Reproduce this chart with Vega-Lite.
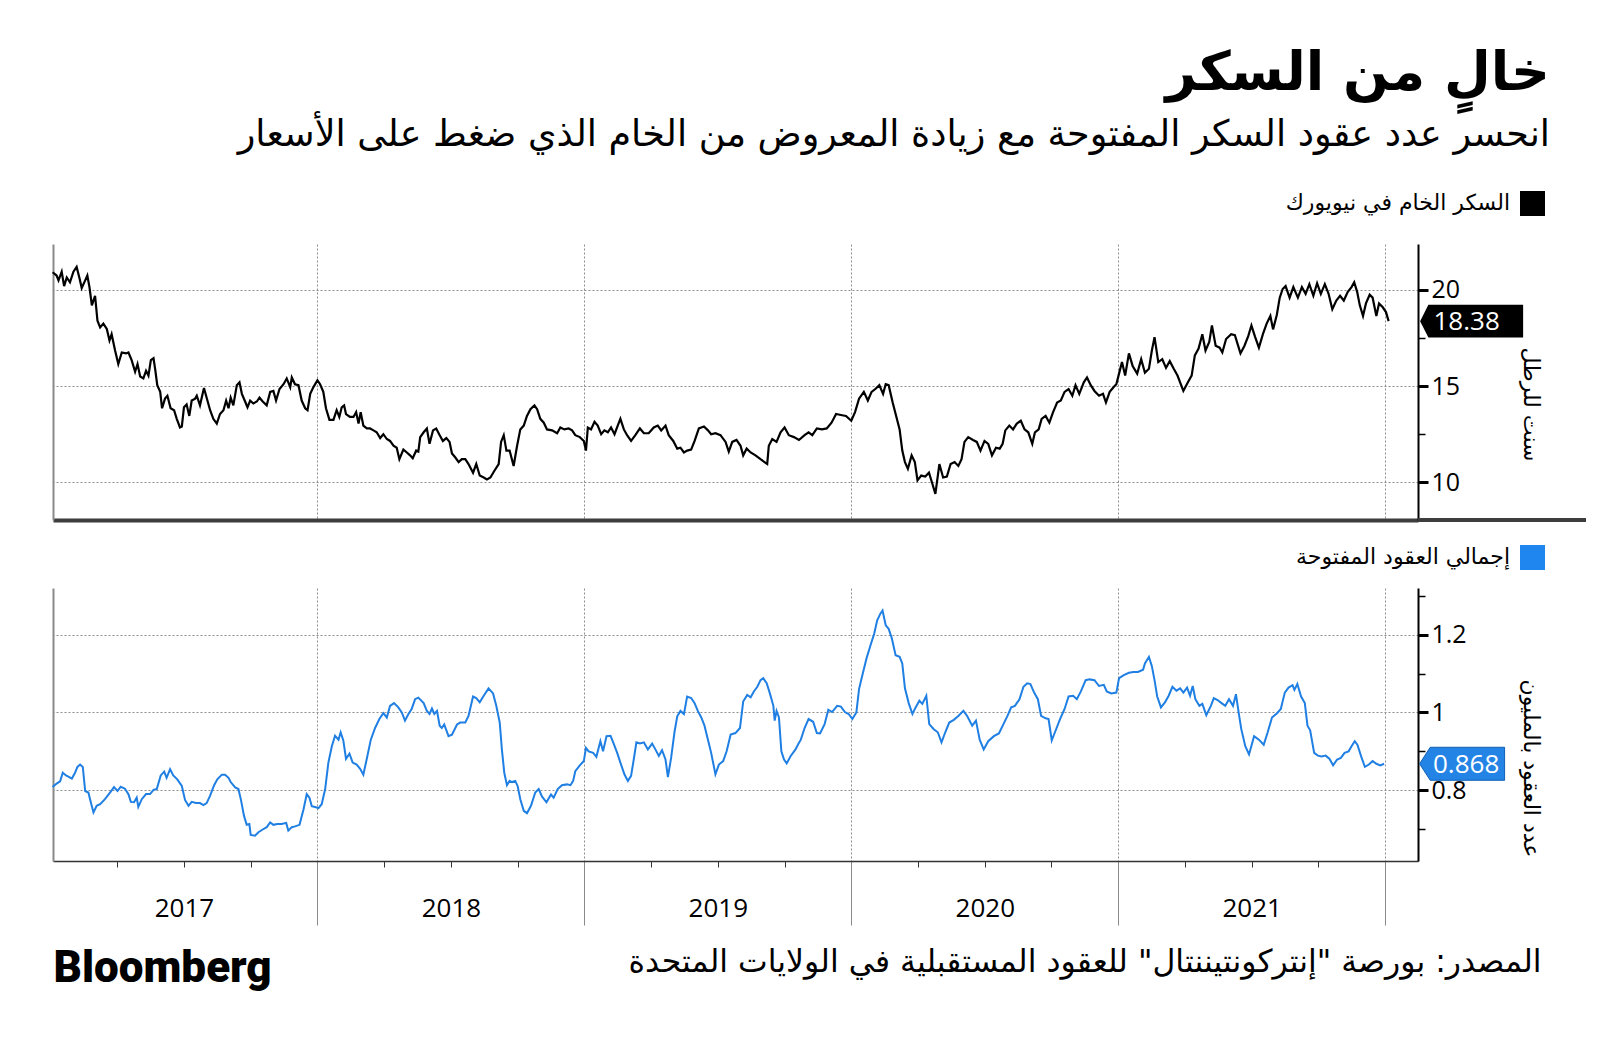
{
  "$schema": "https://vega.github.io/schema/vega-lite/v6.json",
  "background": "white",
  "padding": {"left": 48, "top": 46, "right": 0, "bottom": 40},
  "bounds": "flush",
  "spacing": 68,
  "title": {
    "text": "خالٍ من السكر",
    "subtitle": "انحسر عدد عقود السكر المفتوحة مع زيادة المعروض من الخام الذي ضغط على الأسعار",
    "anchor": "end",
    "frame": "group",
    "dx": 132,
    "offset": 38,
    "font": "DejaVu Sans",
    "fontSize": 54,
    "fontWeight": "bold",
    "color": "#000000",
    "subtitleFont": "DejaVu Sans",
    "subtitleFontSize": 36.5,
    "subtitleColor": "#000000",
    "subtitlePadding": 16
  },
  "datasets": {
    "sugar": [
      {"year": 2017.008, "price": 20.92}, {"year": 2017.023, "price": 20.75}, {"year": 2017.030, "price": 20.5}, {"year": 2017.042, "price": 20.95},
      {"year": 2017.051, "price": 20.2}, {"year": 2017.061, "price": 20.65}, {"year": 2017.073, "price": 20.4}, {"year": 2017.086, "price": 20.95},
      {"year": 2017.098, "price": 21.2}, {"year": 2017.108, "price": 20.65}, {"year": 2017.117, "price": 20.1}, {"year": 2017.130, "price": 20.5},
      {"year": 2017.138, "price": 20.75}, {"year": 2017.146, "price": 20.15}, {"year": 2017.155, "price": 19.2}, {"year": 2017.167, "price": 19.7},
      {"year": 2017.176, "price": 18.4}, {"year": 2017.186, "price": 18.05}, {"year": 2017.198, "price": 18.25}, {"year": 2017.211, "price": 17.97},
      {"year": 2017.221, "price": 17.37}, {"year": 2017.229, "price": 17.7}, {"year": 2017.242, "price": 16.85}, {"year": 2017.254, "price": 16.15},
      {"year": 2017.267, "price": 16.75}, {"year": 2017.283, "price": 16.7}, {"year": 2017.292, "price": 16.75}, {"year": 2017.304, "price": 16.35},
      {"year": 2017.317, "price": 15.75}, {"year": 2017.326, "price": 16.15}, {"year": 2017.336, "price": 15.5}, {"year": 2017.348, "price": 15.4},
      {"year": 2017.358, "price": 15.8}, {"year": 2017.367, "price": 15.55}, {"year": 2017.376, "price": 16.35}, {"year": 2017.386, "price": 16.45},
      {"year": 2017.392, "price": 15.9}, {"year": 2017.400, "price": 15.05}, {"year": 2017.411, "price": 14.7}, {"year": 2017.418, "price": 13.85},
      {"year": 2017.429, "price": 14.35}, {"year": 2017.438, "price": 14.5}, {"year": 2017.450, "price": 13.85}, {"year": 2017.463, "price": 13.75},
      {"year": 2017.473, "price": 13.3}, {"year": 2017.485, "price": 12.85}, {"year": 2017.492, "price": 12.9}, {"year": 2017.500, "price": 13.9},
      {"year": 2017.510, "price": 14.05}, {"year": 2017.520, "price": 13.45}, {"year": 2017.529, "price": 14.25}, {"year": 2017.542, "price": 14.35},
      {"year": 2017.548, "price": 14.5}, {"year": 2017.560, "price": 14.0}, {"year": 2017.575, "price": 14.9}, {"year": 2017.585, "price": 14.4},
      {"year": 2017.598, "price": 13.75}, {"year": 2017.610, "price": 13.3}, {"year": 2017.623, "price": 13.05}, {"year": 2017.635, "price": 13.55},
      {"year": 2017.648, "price": 13.75}, {"year": 2017.658, "price": 14.25}, {"year": 2017.667, "price": 13.85}, {"year": 2017.675, "price": 14.4},
      {"year": 2017.685, "price": 14.0}, {"year": 2017.698, "price": 15.05}, {"year": 2017.708, "price": 15.2}, {"year": 2017.717, "price": 14.6},
      {"year": 2017.729, "price": 14.2}, {"year": 2017.738, "price": 13.9}, {"year": 2017.748, "price": 14.25}, {"year": 2017.760, "price": 14.1},
      {"year": 2017.773, "price": 14.2}, {"year": 2017.783, "price": 14.4}, {"year": 2017.795, "price": 14.2}, {"year": 2017.810, "price": 14.0},
      {"year": 2017.823, "price": 14.7}, {"year": 2017.835, "price": 14.75}, {"year": 2017.845, "price": 14.25}, {"year": 2017.858, "price": 14.85},
      {"year": 2017.873, "price": 15.1}, {"year": 2017.885, "price": 15.4}, {"year": 2017.898, "price": 14.95}, {"year": 2017.904, "price": 15.45},
      {"year": 2017.916, "price": 15.1}, {"year": 2017.929, "price": 15.05}, {"year": 2017.941, "price": 14.25}, {"year": 2017.954, "price": 13.85},
      {"year": 2017.963, "price": 13.75}, {"year": 2017.973, "price": 14.6}, {"year": 2017.985, "price": 14.95}, {"year": 2018.000, "price": 15.3},
      {"year": 2018.010, "price": 15.1}, {"year": 2018.022, "price": 14.7}, {"year": 2018.032, "price": 13.85}, {"year": 2018.045, "price": 13.25},
      {"year": 2018.060, "price": 13.25}, {"year": 2018.072, "price": 13.75}, {"year": 2018.082, "price": 13.4}, {"year": 2018.091, "price": 13.9},
      {"year": 2018.100, "price": 14.0}, {"year": 2018.107, "price": 13.55}, {"year": 2018.122, "price": 13.4}, {"year": 2018.135, "price": 13.4},
      {"year": 2018.145, "price": 13.65}, {"year": 2018.154, "price": 13.05}, {"year": 2018.162, "price": 13.65}, {"year": 2018.172, "price": 12.95},
      {"year": 2018.185, "price": 12.8}, {"year": 2018.197, "price": 12.8}, {"year": 2018.210, "price": 12.7}, {"year": 2018.222, "price": 12.6},
      {"year": 2018.235, "price": 12.3}, {"year": 2018.247, "price": 12.5}, {"year": 2018.260, "price": 12.25}, {"year": 2018.272, "price": 12.15},
      {"year": 2018.285, "price": 11.9}, {"year": 2018.297, "price": 11.8}, {"year": 2018.307, "price": 11.2}, {"year": 2018.322, "price": 11.7},
      {"year": 2018.335, "price": 11.55}, {"year": 2018.347, "price": 11.4}, {"year": 2018.357, "price": 11.25}, {"year": 2018.370, "price": 11.65},
      {"year": 2018.378, "price": 11.6}, {"year": 2018.385, "price": 12.35}, {"year": 2018.398, "price": 12.6}, {"year": 2018.410, "price": 12.8},
      {"year": 2018.420, "price": 12.0}, {"year": 2018.433, "price": 12.7}, {"year": 2018.445, "price": 12.8}, {"year": 2018.458, "price": 12.45},
      {"year": 2018.470, "price": 12.15}, {"year": 2018.483, "price": 12.3}, {"year": 2018.495, "price": 12.1}, {"year": 2018.504, "price": 11.5},
      {"year": 2018.516, "price": 11.3}, {"year": 2018.529, "price": 11.05}, {"year": 2018.541, "price": 11.2}, {"year": 2018.554, "price": 11.2},
      {"year": 2018.566, "price": 10.95}, {"year": 2018.583, "price": 10.5}, {"year": 2018.595, "price": 10.95}, {"year": 2018.608, "price": 10.35},
      {"year": 2018.623, "price": 10.25}, {"year": 2018.635, "price": 10.15}, {"year": 2018.648, "price": 10.25}, {"year": 2018.663, "price": 10.6},
      {"year": 2018.679, "price": 10.95}, {"year": 2018.688, "price": 12.1}, {"year": 2018.698, "price": 12.45}, {"year": 2018.708, "price": 11.65},
      {"year": 2018.720, "price": 11.65}, {"year": 2018.735, "price": 10.85}, {"year": 2018.748, "price": 11.9}, {"year": 2018.760, "price": 12.75},
      {"year": 2018.773, "price": 12.95}, {"year": 2018.785, "price": 13.45}, {"year": 2018.798, "price": 13.8}, {"year": 2018.813, "price": 14.0},
      {"year": 2018.823, "price": 13.8}, {"year": 2018.835, "price": 13.3}, {"year": 2018.848, "price": 13.1}, {"year": 2018.860, "price": 12.75},
      {"year": 2018.879, "price": 12.7}, {"year": 2018.898, "price": 12.55}, {"year": 2018.910, "price": 12.85}, {"year": 2018.925, "price": 12.75},
      {"year": 2018.941, "price": 12.8}, {"year": 2018.954, "price": 12.7}, {"year": 2018.966, "price": 12.45}, {"year": 2018.983, "price": 12.35},
      {"year": 2018.998, "price": 12.15}, {"year": 2019.006, "price": 11.65}, {"year": 2019.013, "price": 12.85}, {"year": 2019.025, "price": 12.75},
      {"year": 2019.038, "price": 13.15}, {"year": 2019.050, "price": 12.95}, {"year": 2019.063, "price": 12.5}, {"year": 2019.075, "price": 12.7},
      {"year": 2019.088, "price": 12.6}, {"year": 2019.100, "price": 12.85}, {"year": 2019.113, "price": 12.5}, {"year": 2019.125, "price": 12.95},
      {"year": 2019.135, "price": 13.3}, {"year": 2019.148, "price": 12.75}, {"year": 2019.160, "price": 12.45}, {"year": 2019.175, "price": 12.15},
      {"year": 2019.191, "price": 12.45}, {"year": 2019.208, "price": 12.8}, {"year": 2019.223, "price": 12.55}, {"year": 2019.241, "price": 12.55},
      {"year": 2019.260, "price": 12.85}, {"year": 2019.275, "price": 12.95}, {"year": 2019.288, "price": 12.7}, {"year": 2019.304, "price": 12.95},
      {"year": 2019.316, "price": 12.45}, {"year": 2019.333, "price": 12.15}, {"year": 2019.348, "price": 11.75}, {"year": 2019.360, "price": 11.8},
      {"year": 2019.373, "price": 11.55}, {"year": 2019.385, "price": 11.65}, {"year": 2019.400, "price": 11.7}, {"year": 2019.413, "price": 12.15},
      {"year": 2019.429, "price": 12.8}, {"year": 2019.448, "price": 12.9}, {"year": 2019.463, "price": 12.7}, {"year": 2019.475, "price": 12.5},
      {"year": 2019.491, "price": 12.55}, {"year": 2019.510, "price": 12.45}, {"year": 2019.529, "price": 12.1}, {"year": 2019.541, "price": 11.6},
      {"year": 2019.554, "price": 12.1}, {"year": 2019.570, "price": 12.2}, {"year": 2019.585, "price": 11.9}, {"year": 2019.595, "price": 11.4},
      {"year": 2019.608, "price": 11.75}, {"year": 2019.623, "price": 11.55}, {"year": 2019.641, "price": 11.4}, {"year": 2019.660, "price": 11.2},
      {"year": 2019.675, "price": 11.05}, {"year": 2019.685, "price": 10.95}, {"year": 2019.691, "price": 11.9}, {"year": 2019.704, "price": 12.25},
      {"year": 2019.720, "price": 12.1}, {"year": 2019.735, "price": 12.6}, {"year": 2019.750, "price": 12.85}, {"year": 2019.766, "price": 12.45},
      {"year": 2019.785, "price": 12.35}, {"year": 2019.804, "price": 12.2}, {"year": 2019.825, "price": 12.45}, {"year": 2019.840, "price": 12.6},
      {"year": 2019.854, "price": 12.45}, {"year": 2019.871, "price": 12.8}, {"year": 2019.890, "price": 12.75}, {"year": 2019.908, "price": 12.8},
      {"year": 2019.926, "price": 13.1}, {"year": 2019.943, "price": 13.55}, {"year": 2019.961, "price": 13.5}, {"year": 2019.980, "price": 13.45},
      {"year": 2020.000, "price": 13.2}, {"year": 2020.014, "price": 13.65}, {"year": 2020.029, "price": 14.35}, {"year": 2020.047, "price": 14.7},
      {"year": 2020.062, "price": 14.25}, {"year": 2020.076, "price": 14.7}, {"year": 2020.090, "price": 14.85}, {"year": 2020.105, "price": 15.05},
      {"year": 2020.119, "price": 14.6}, {"year": 2020.129, "price": 15.1}, {"year": 2020.140, "price": 15.05}, {"year": 2020.155, "price": 14.15},
      {"year": 2020.169, "price": 13.4}, {"year": 2020.181, "price": 12.75}, {"year": 2020.191, "price": 11.65}, {"year": 2020.201, "price": 11.05},
      {"year": 2020.212, "price": 10.7}, {"year": 2020.226, "price": 11.4}, {"year": 2020.238, "price": 11.05}, {"year": 2020.248, "price": 10.1},
      {"year": 2020.262, "price": 10.35}, {"year": 2020.277, "price": 10.3}, {"year": 2020.291, "price": 10.5}, {"year": 2020.302, "price": 10.0},
      {"year": 2020.315, "price": 9.4}, {"year": 2020.330, "price": 10.95}, {"year": 2020.344, "price": 10.25}, {"year": 2020.358, "price": 10.3},
      {"year": 2020.372, "price": 10.95}, {"year": 2020.387, "price": 11.05}, {"year": 2020.401, "price": 10.85}, {"year": 2020.413, "price": 11.2},
      {"year": 2020.424, "price": 12.1}, {"year": 2020.438, "price": 12.35}, {"year": 2020.456, "price": 12.2}, {"year": 2020.470, "price": 12.1},
      {"year": 2020.484, "price": 11.65}, {"year": 2020.499, "price": 12.15}, {"year": 2020.513, "price": 12.0}, {"year": 2020.527, "price": 11.4},
      {"year": 2020.542, "price": 11.8}, {"year": 2020.556, "price": 11.75}, {"year": 2020.567, "price": 12.0}, {"year": 2020.577, "price": 12.7},
      {"year": 2020.592, "price": 12.95}, {"year": 2020.606, "price": 12.75}, {"year": 2020.620, "price": 13.05}, {"year": 2020.635, "price": 13.2},
      {"year": 2020.649, "price": 12.75}, {"year": 2020.663, "price": 12.6}, {"year": 2020.678, "price": 12.0}, {"year": 2020.688, "price": 12.6},
      {"year": 2020.702, "price": 12.75}, {"year": 2020.713, "price": 13.3}, {"year": 2020.728, "price": 13.45}, {"year": 2020.742, "price": 13.1},
      {"year": 2020.756, "price": 13.65}, {"year": 2020.771, "price": 14.15}, {"year": 2020.785, "price": 14.25}, {"year": 2020.799, "price": 14.7},
      {"year": 2020.814, "price": 14.85}, {"year": 2020.828, "price": 14.5}, {"year": 2020.840, "price": 15.05}, {"year": 2020.854, "price": 14.6},
      {"year": 2020.871, "price": 15.2}, {"year": 2020.883, "price": 15.45}, {"year": 2020.897, "price": 15.05}, {"year": 2020.911, "price": 14.75},
      {"year": 2020.928, "price": 14.5}, {"year": 2020.943, "price": 14.6}, {"year": 2020.954, "price": 14.15}, {"year": 2020.968, "price": 14.7},
      {"year": 2020.983, "price": 14.95}, {"year": 2020.993, "price": 15.1}, {"year": 2021.003, "price": 15.65}, {"year": 2021.014, "price": 16.25},
      {"year": 2021.026, "price": 15.55}, {"year": 2021.040, "price": 16.7}, {"year": 2021.054, "price": 16.05}, {"year": 2021.071, "price": 15.65},
      {"year": 2021.086, "price": 16.4}, {"year": 2021.100, "price": 15.7}, {"year": 2021.115, "price": 15.9}, {"year": 2021.126, "price": 16.85},
      {"year": 2021.136, "price": 17.55}, {"year": 2021.150, "price": 16.25}, {"year": 2021.165, "price": 16.4}, {"year": 2021.179, "price": 15.95},
      {"year": 2021.193, "price": 16.3}, {"year": 2021.208, "price": 15.9}, {"year": 2021.222, "price": 15.55}, {"year": 2021.244, "price": 14.75},
      {"year": 2021.261, "price": 15.2}, {"year": 2021.275, "price": 15.55}, {"year": 2021.287, "price": 16.6}, {"year": 2021.301, "price": 16.95},
      {"year": 2021.315, "price": 17.7}, {"year": 2021.327, "price": 16.85}, {"year": 2021.341, "price": 17.3}, {"year": 2021.351, "price": 18.15},
      {"year": 2021.365, "price": 17.1}, {"year": 2021.380, "price": 17.0}, {"year": 2021.390, "price": 16.75}, {"year": 2021.404, "price": 17.45},
      {"year": 2021.423, "price": 17.7}, {"year": 2021.437, "price": 17.65}, {"year": 2021.447, "price": 17.2}, {"year": 2021.458, "price": 16.7},
      {"year": 2021.473, "price": 17.1}, {"year": 2021.487, "price": 17.6}, {"year": 2021.499, "price": 18.15}, {"year": 2021.513, "price": 17.55},
      {"year": 2021.527, "price": 17.0}, {"year": 2021.542, "price": 17.7}, {"year": 2021.556, "price": 18.25}, {"year": 2021.570, "price": 18.65},
      {"year": 2021.580, "price": 17.95}, {"year": 2021.594, "price": 18.7}, {"year": 2021.605, "price": 19.6}, {"year": 2021.616, "price": 20.05},
      {"year": 2021.627, "price": 20.2}, {"year": 2021.642, "price": 19.6}, {"year": 2021.656, "price": 20.15}, {"year": 2021.673, "price": 19.6},
      {"year": 2021.688, "price": 20.15}, {"year": 2021.702, "price": 19.8}, {"year": 2021.716, "price": 20.3}, {"year": 2021.731, "price": 19.7},
      {"year": 2021.745, "price": 20.35}, {"year": 2021.759, "price": 19.8}, {"year": 2021.774, "price": 20.3}, {"year": 2021.788, "price": 19.8},
      {"year": 2021.802, "price": 19.0}, {"year": 2021.817, "price": 19.45}, {"year": 2021.831, "price": 19.7}, {"year": 2021.845, "price": 19.45},
      {"year": 2021.860, "price": 19.9}, {"year": 2021.874, "price": 20.15}, {"year": 2021.884, "price": 20.4}, {"year": 2021.895, "price": 19.9},
      {"year": 2021.905, "price": 19.2}, {"year": 2021.917, "price": 18.65}, {"year": 2021.928, "price": 19.3}, {"year": 2021.942, "price": 19.75},
      {"year": 2021.953, "price": 19.6}, {"year": 2021.967, "price": 18.65}, {"year": 2021.977, "price": 19.3}, {"year": 2021.991, "price": 19.1},
      {"year": 2022.003, "price": 18.85}, {"year": 2022.013, "price": 18.38}
    ],
    "oi": [
      {"year": 2017.008, "contracts": 0.808}, {"year": 2017.023, "contracts": 0.817}, {"year": 2017.036, "contracts": 0.823}, {"year": 2017.046, "contracts": 0.845},
      {"year": 2017.058, "contracts": 0.838}, {"year": 2017.067, "contracts": 0.835}, {"year": 2017.080, "contracts": 0.830}, {"year": 2017.092, "contracts": 0.845},
      {"year": 2017.101, "contracts": 0.860}, {"year": 2017.111, "contracts": 0.866}, {"year": 2017.121, "contracts": 0.860}, {"year": 2017.130, "contracts": 0.798},
      {"year": 2017.142, "contracts": 0.794}, {"year": 2017.151, "contracts": 0.769}, {"year": 2017.161, "contracts": 0.743}, {"year": 2017.173, "contracts": 0.760},
      {"year": 2017.186, "contracts": 0.764}, {"year": 2017.204, "contracts": 0.777}, {"year": 2017.223, "contracts": 0.794}, {"year": 2017.238, "contracts": 0.808},
      {"year": 2017.251, "contracts": 0.798}, {"year": 2017.263, "contracts": 0.809}, {"year": 2017.279, "contracts": 0.804}, {"year": 2017.292, "contracts": 0.790},
      {"year": 2017.301, "contracts": 0.770}, {"year": 2017.313, "contracts": 0.769}, {"year": 2017.323, "contracts": 0.781}, {"year": 2017.329, "contracts": 0.757},
      {"year": 2017.342, "contracts": 0.777}, {"year": 2017.358, "contracts": 0.790}, {"year": 2017.373, "contracts": 0.790}, {"year": 2017.386, "contracts": 0.801},
      {"year": 2017.398, "contracts": 0.803}, {"year": 2017.413, "contracts": 0.838}, {"year": 2017.426, "contracts": 0.848}, {"year": 2017.435, "contracts": 0.832},
      {"year": 2017.448, "contracts": 0.854}, {"year": 2017.460, "contracts": 0.838}, {"year": 2017.475, "contracts": 0.828}, {"year": 2017.492, "contracts": 0.811},
      {"year": 2017.504, "contracts": 0.775}, {"year": 2017.517, "contracts": 0.760}, {"year": 2017.529, "contracts": 0.770}, {"year": 2017.545, "contracts": 0.767},
      {"year": 2017.560, "contracts": 0.767}, {"year": 2017.573, "contracts": 0.762}, {"year": 2017.585, "contracts": 0.767}, {"year": 2017.598, "contracts": 0.786},
      {"year": 2017.613, "contracts": 0.813}, {"year": 2017.625, "contracts": 0.828}, {"year": 2017.642, "contracts": 0.840}, {"year": 2017.654, "contracts": 0.840},
      {"year": 2017.667, "contracts": 0.832}, {"year": 2017.675, "contracts": 0.821}, {"year": 2017.692, "contracts": 0.807}, {"year": 2017.704, "contracts": 0.803},
      {"year": 2017.713, "contracts": 0.777}, {"year": 2017.725, "contracts": 0.734}, {"year": 2017.735, "contracts": 0.711}, {"year": 2017.745, "contracts": 0.713},
      {"year": 2017.750, "contracts": 0.685}, {"year": 2017.766, "contracts": 0.683}, {"year": 2017.779, "contracts": 0.692}, {"year": 2017.795, "contracts": 0.699},
      {"year": 2017.810, "contracts": 0.705}, {"year": 2017.823, "contracts": 0.717}, {"year": 2017.835, "contracts": 0.711}, {"year": 2017.850, "contracts": 0.713},
      {"year": 2017.866, "contracts": 0.713}, {"year": 2017.883, "contracts": 0.716}, {"year": 2017.891, "contracts": 0.696}, {"year": 2017.904, "contracts": 0.705},
      {"year": 2017.916, "contracts": 0.707}, {"year": 2017.933, "contracts": 0.711}, {"year": 2017.948, "contracts": 0.751}, {"year": 2017.960, "contracts": 0.790},
      {"year": 2017.970, "contracts": 0.781}, {"year": 2017.979, "contracts": 0.759}, {"year": 2017.991, "contracts": 0.757}, {"year": 2018.004, "contracts": 0.754},
      {"year": 2018.016, "contracts": 0.764}, {"year": 2018.029, "contracts": 0.803}, {"year": 2018.041, "contracts": 0.871}, {"year": 2018.054, "contracts": 0.913},
      {"year": 2018.066, "contracts": 0.940}, {"year": 2018.079, "contracts": 0.930}, {"year": 2018.087, "contracts": 0.949}, {"year": 2018.097, "contracts": 0.928},
      {"year": 2018.107, "contracts": 0.881}, {"year": 2018.120, "contracts": 0.894}, {"year": 2018.132, "contracts": 0.871}, {"year": 2018.147, "contracts": 0.866},
      {"year": 2018.160, "contracts": 0.855}, {"year": 2018.172, "contracts": 0.840}, {"year": 2018.185, "contracts": 0.881}, {"year": 2018.200, "contracts": 0.930},
      {"year": 2018.216, "contracts": 0.960}, {"year": 2018.232, "contracts": 0.983}, {"year": 2018.247, "contracts": 0.998}, {"year": 2018.260, "contracts": 0.987},
      {"year": 2018.272, "contracts": 1.017}, {"year": 2018.287, "contracts": 1.024}, {"year": 2018.303, "contracts": 1.013}, {"year": 2018.316, "contracts": 1.000},
      {"year": 2018.328, "contracts": 0.979}, {"year": 2018.341, "contracts": 0.996}, {"year": 2018.353, "contracts": 1.009}, {"year": 2018.366, "contracts": 1.034},
      {"year": 2018.378, "contracts": 1.038}, {"year": 2018.398, "contracts": 1.024}, {"year": 2018.410, "contracts": 1.004}, {"year": 2018.420, "contracts": 0.996},
      {"year": 2018.429, "contracts": 1.010}, {"year": 2018.438, "contracts": 0.996}, {"year": 2018.448, "contracts": 1.004}, {"year": 2018.458, "contracts": 0.966},
      {"year": 2018.466, "contracts": 0.960}, {"year": 2018.475, "contracts": 0.969}, {"year": 2018.491, "contracts": 0.939}, {"year": 2018.504, "contracts": 0.943},
      {"year": 2018.523, "contracts": 0.969}, {"year": 2018.535, "contracts": 0.974}, {"year": 2018.554, "contracts": 0.974}, {"year": 2018.566, "contracts": 0.991},
      {"year": 2018.583, "contracts": 1.041}, {"year": 2018.595, "contracts": 1.037}, {"year": 2018.608, "contracts": 1.026}, {"year": 2018.623, "contracts": 1.043},
      {"year": 2018.641, "contracts": 1.062}, {"year": 2018.658, "contracts": 1.049}, {"year": 2018.670, "contracts": 1.017}, {"year": 2018.683, "contracts": 0.974},
      {"year": 2018.691, "contracts": 0.905}, {"year": 2018.700, "contracts": 0.845}, {"year": 2018.710, "contracts": 0.813}, {"year": 2018.720, "contracts": 0.824},
      {"year": 2018.729, "contracts": 0.821}, {"year": 2018.741, "contracts": 0.824}, {"year": 2018.750, "contracts": 0.811}, {"year": 2018.760, "contracts": 0.777},
      {"year": 2018.773, "contracts": 0.747}, {"year": 2018.785, "contracts": 0.741}, {"year": 2018.800, "contracts": 0.760}, {"year": 2018.816, "contracts": 0.794},
      {"year": 2018.829, "contracts": 0.803}, {"year": 2018.841, "contracts": 0.784}, {"year": 2018.858, "contracts": 0.769}, {"year": 2018.875, "contracts": 0.789},
      {"year": 2018.885, "contracts": 0.781}, {"year": 2018.900, "contracts": 0.803}, {"year": 2018.916, "contracts": 0.813}, {"year": 2018.935, "contracts": 0.815},
      {"year": 2018.948, "contracts": 0.813}, {"year": 2018.958, "contracts": 0.824}, {"year": 2018.966, "contracts": 0.849}, {"year": 2018.983, "contracts": 0.864},
      {"year": 2018.998, "contracts": 0.875}, {"year": 2019.006, "contracts": 0.909}, {"year": 2019.016, "contracts": 0.900}, {"year": 2019.033, "contracts": 0.896},
      {"year": 2019.045, "contracts": 0.886}, {"year": 2019.060, "contracts": 0.926}, {"year": 2019.070, "contracts": 0.900}, {"year": 2019.083, "contracts": 0.939},
      {"year": 2019.098, "contracts": 0.940}, {"year": 2019.108, "contracts": 0.923}, {"year": 2019.123, "contracts": 0.896}, {"year": 2019.135, "contracts": 0.871},
      {"year": 2019.150, "contracts": 0.841}, {"year": 2019.163, "contracts": 0.824}, {"year": 2019.175, "contracts": 0.837}, {"year": 2019.185, "contracts": 0.879},
      {"year": 2019.195, "contracts": 0.923}, {"year": 2019.208, "contracts": 0.920}, {"year": 2019.223, "contracts": 0.923}, {"year": 2019.238, "contracts": 0.905},
      {"year": 2019.254, "contracts": 0.920}, {"year": 2019.266, "contracts": 0.905}, {"year": 2019.279, "contracts": 0.888}, {"year": 2019.291, "contracts": 0.903},
      {"year": 2019.304, "contracts": 0.879}, {"year": 2019.313, "contracts": 0.834}, {"year": 2019.325, "contracts": 0.883}, {"year": 2019.338, "contracts": 0.951},
      {"year": 2019.348, "contracts": 0.990}, {"year": 2019.360, "contracts": 1.004}, {"year": 2019.373, "contracts": 0.996}, {"year": 2019.385, "contracts": 1.041},
      {"year": 2019.400, "contracts": 1.037}, {"year": 2019.413, "contracts": 1.024}, {"year": 2019.425, "contracts": 1.004}, {"year": 2019.438, "contracts": 0.987},
      {"year": 2019.450, "contracts": 0.966}, {"year": 2019.463, "contracts": 0.930}, {"year": 2019.475, "contracts": 0.896}, {"year": 2019.491, "contracts": 0.841},
      {"year": 2019.504, "contracts": 0.866}, {"year": 2019.520, "contracts": 0.875}, {"year": 2019.533, "contracts": 0.900}, {"year": 2019.548, "contracts": 0.943},
      {"year": 2019.566, "contracts": 0.947}, {"year": 2019.583, "contracts": 0.960}, {"year": 2019.595, "contracts": 1.028}, {"year": 2019.610, "contracts": 1.045},
      {"year": 2019.623, "contracts": 1.039}, {"year": 2019.635, "contracts": 1.054}, {"year": 2019.648, "contracts": 1.066}, {"year": 2019.660, "contracts": 1.083},
      {"year": 2019.670, "contracts": 1.088}, {"year": 2019.683, "contracts": 1.075}, {"year": 2019.695, "contracts": 1.049}, {"year": 2019.708, "contracts": 1.017},
      {"year": 2019.713, "contracts": 0.979}, {"year": 2019.720, "contracts": 1.004}, {"year": 2019.729, "contracts": 0.987}, {"year": 2019.738, "contracts": 0.900},
      {"year": 2019.748, "contracts": 0.879}, {"year": 2019.758, "contracts": 0.869}, {"year": 2019.773, "contracts": 0.888}, {"year": 2019.791, "contracts": 0.905},
      {"year": 2019.804, "contracts": 0.922}, {"year": 2019.811, "contracts": 0.930}, {"year": 2019.825, "contracts": 0.960}, {"year": 2019.840, "contracts": 0.983},
      {"year": 2019.857, "contracts": 0.976}, {"year": 2019.871, "contracts": 0.947}, {"year": 2019.883, "contracts": 0.946}, {"year": 2019.900, "contracts": 0.970},
      {"year": 2019.914, "contracts": 1.007}, {"year": 2019.928, "contracts": 1.001}, {"year": 2019.947, "contracts": 1.017}, {"year": 2019.961, "contracts": 1.015},
      {"year": 2019.976, "contracts": 1.001}, {"year": 2019.990, "contracts": 0.996}, {"year": 2020.004, "contracts": 0.983}, {"year": 2020.019, "contracts": 1.000},
      {"year": 2020.029, "contracts": 1.060}, {"year": 2020.043, "contracts": 1.100}, {"year": 2020.057, "contracts": 1.139}, {"year": 2020.072, "contracts": 1.173},
      {"year": 2020.086, "contracts": 1.203}, {"year": 2020.097, "contracts": 1.237}, {"year": 2020.109, "contracts": 1.254}, {"year": 2020.117, "contracts": 1.262},
      {"year": 2020.129, "contracts": 1.224}, {"year": 2020.140, "contracts": 1.215}, {"year": 2020.152, "contracts": 1.190}, {"year": 2020.166, "contracts": 1.147},
      {"year": 2020.181, "contracts": 1.143}, {"year": 2020.191, "contracts": 1.126}, {"year": 2020.201, "contracts": 1.062}, {"year": 2020.215, "contracts": 1.024},
      {"year": 2020.229, "contracts": 0.996}, {"year": 2020.241, "contracts": 1.013}, {"year": 2020.255, "contracts": 1.030}, {"year": 2020.266, "contracts": 1.022},
      {"year": 2020.281, "contracts": 1.043}, {"year": 2020.292, "contracts": 0.970}, {"year": 2020.309, "contracts": 0.957}, {"year": 2020.324, "contracts": 0.949},
      {"year": 2020.338, "contracts": 0.923}, {"year": 2020.352, "contracts": 0.949}, {"year": 2020.367, "contracts": 0.974}, {"year": 2020.384, "contracts": 0.981},
      {"year": 2020.401, "contracts": 0.991}, {"year": 2020.420, "contracts": 1.004}, {"year": 2020.434, "contracts": 0.991}, {"year": 2020.453, "contracts": 0.966},
      {"year": 2020.467, "contracts": 0.979}, {"year": 2020.481, "contracts": 0.930}, {"year": 2020.496, "contracts": 0.905}, {"year": 2020.513, "contracts": 0.926},
      {"year": 2020.534, "contracts": 0.939}, {"year": 2020.553, "contracts": 0.946}, {"year": 2020.570, "contracts": 0.970}, {"year": 2020.585, "contracts": 0.991},
      {"year": 2020.599, "contracts": 1.013}, {"year": 2020.613, "contracts": 1.017}, {"year": 2020.630, "contracts": 1.034}, {"year": 2020.645, "contracts": 1.066},
      {"year": 2020.659, "contracts": 1.075}, {"year": 2020.671, "contracts": 1.073}, {"year": 2020.685, "contracts": 1.051}, {"year": 2020.699, "contracts": 1.034},
      {"year": 2020.711, "contracts": 0.991}, {"year": 2020.728, "contracts": 0.985}, {"year": 2020.739, "contracts": 0.983}, {"year": 2020.751, "contracts": 0.928},
      {"year": 2020.764, "contracts": 0.951}, {"year": 2020.782, "contracts": 0.983}, {"year": 2020.799, "contracts": 1.009}, {"year": 2020.814, "contracts": 1.041},
      {"year": 2020.831, "contracts": 1.043}, {"year": 2020.845, "contracts": 1.034}, {"year": 2020.860, "contracts": 1.054}, {"year": 2020.878, "contracts": 1.083},
      {"year": 2020.893, "contracts": 1.085}, {"year": 2020.911, "contracts": 1.083}, {"year": 2020.928, "contracts": 1.068}, {"year": 2020.946, "contracts": 1.071},
      {"year": 2020.957, "contracts": 1.054}, {"year": 2020.974, "contracts": 1.049}, {"year": 2020.993, "contracts": 1.051}, {"year": 2021.003, "contracts": 1.088},
      {"year": 2021.021, "contracts": 1.096}, {"year": 2021.040, "contracts": 1.102}, {"year": 2021.057, "contracts": 1.104}, {"year": 2021.074, "contracts": 1.104},
      {"year": 2021.093, "contracts": 1.110}, {"year": 2021.100, "contracts": 1.126}, {"year": 2021.115, "contracts": 1.143}, {"year": 2021.126, "contracts": 1.119},
      {"year": 2021.136, "contracts": 1.083}, {"year": 2021.146, "contracts": 1.041}, {"year": 2021.160, "contracts": 1.013}, {"year": 2021.175, "contracts": 1.026},
      {"year": 2021.189, "contracts": 1.043}, {"year": 2021.203, "contracts": 1.066}, {"year": 2021.218, "contracts": 1.056}, {"year": 2021.232, "contracts": 1.062},
      {"year": 2021.244, "contracts": 1.051}, {"year": 2021.258, "contracts": 1.064}, {"year": 2021.269, "contracts": 1.043}, {"year": 2021.279, "contracts": 1.068},
      {"year": 2021.289, "contracts": 1.034}, {"year": 2021.304, "contracts": 1.017}, {"year": 2021.315, "contracts": 1.022}, {"year": 2021.330, "contracts": 0.993},
      {"year": 2021.347, "contracts": 1.017}, {"year": 2021.358, "contracts": 1.037}, {"year": 2021.372, "contracts": 1.032}, {"year": 2021.387, "contracts": 1.024},
      {"year": 2021.401, "contracts": 1.017}, {"year": 2021.415, "contracts": 1.034}, {"year": 2021.430, "contracts": 1.017}, {"year": 2021.441, "contracts": 1.047},
      {"year": 2021.451, "contracts": 1.000}, {"year": 2021.461, "contracts": 0.957}, {"year": 2021.476, "contracts": 0.913}, {"year": 2021.490, "contracts": 0.892},
      {"year": 2021.509, "contracts": 0.939}, {"year": 2021.527, "contracts": 0.930}, {"year": 2021.545, "contracts": 0.917}, {"year": 2021.559, "contracts": 0.947},
      {"year": 2021.576, "contracts": 0.987}, {"year": 2021.595, "contracts": 0.998}, {"year": 2021.609, "contracts": 1.009}, {"year": 2021.624, "contracts": 1.051},
      {"year": 2021.638, "contracts": 1.064}, {"year": 2021.653, "contracts": 1.070}, {"year": 2021.660, "contracts": 1.058}, {"year": 2021.671, "contracts": 1.073},
      {"year": 2021.685, "contracts": 1.041}, {"year": 2021.699, "contracts": 1.024}, {"year": 2021.709, "contracts": 0.966}, {"year": 2021.719, "contracts": 0.954},
      {"year": 2021.734, "contracts": 0.896}, {"year": 2021.748, "contracts": 0.889}, {"year": 2021.762, "contracts": 0.887}, {"year": 2021.777, "contracts": 0.889},
      {"year": 2021.791, "contracts": 0.881}, {"year": 2021.805, "contracts": 0.864}, {"year": 2021.820, "contracts": 0.879}, {"year": 2021.834, "contracts": 0.883},
      {"year": 2021.848, "contracts": 0.896}, {"year": 2021.863, "contracts": 0.900}, {"year": 2021.874, "contracts": 0.913}, {"year": 2021.886, "contracts": 0.926},
      {"year": 2021.896, "contracts": 0.917}, {"year": 2021.910, "contracts": 0.887}, {"year": 2021.924, "contracts": 0.860}, {"year": 2021.939, "contracts": 0.866},
      {"year": 2021.953, "contracts": 0.875}, {"year": 2021.967, "contracts": 0.868}, {"year": 2021.982, "contracts": 0.864}, {"year": 2021.996, "contracts": 0.868}
    ]
  },
  "vconcat": [
    {
      "width": 1365,
      "height": 276,
      "title": {"text": "السكر الخام في نيويورك", "anchor": "end", "frame": "group", "dx": 92, "offset": -24, "font": "DejaVu Sans", "fontSize": 22, "fontWeight": "normal", "color": "#000000"},
      "data": {"name": "sugar"},
      "layer": [
        {
          "mark": {"type": "line", "color": "#000000", "strokeWidth": 2.2},
          "encoding": {
            "x": {"field": "year", "type": "quantitative", "scale": {"domain": [2017.0094, 2022.123], "nice": false, "zero": false},
              "axis": {"orient": "bottom", "values": [2018, 2019, 2020, 2021, 2022], "grid": true, "gridDash": [2, 2], "gridColor": "#8c8c8c", "gridWidth": 1, "ticks": false, "labels": false, "domainColor": "#3d3d3d", "domainWidth": 4, "title": null}},
            "y": {"field": "price", "type": "quantitative", "scale": {"domain": [8.04, 22.39], "nice": false, "zero": false},
              "axis": {"orient": "right", "values": [10, 15, 20], "grid": true, "gridDash": [2, 2], "gridColor": "#8c8c8c", "gridWidth": 1, "domainColor": "#000000", "domainWidth": 2, "tickColor": "#000000", "tickSize": 10, "tickWidth": 3, "labelFont": "Open Sans", "labelFontSize": 25, "labelColor": "#000000", "labelPadding": 3, "title": "سنت للرطل", "titleFont": "DejaVu Sans", "titleFontSize": 22, "titleFontWeight": "normal", "titleColor": "#000000", "titleX": 112, "titleY": 160, "titleBaseline": "middle", "titleAngle": 90}}
          }
        },
        {
          "mark": {"type": "rule", "color": "#3d3d3d", "strokeWidth": 4},
          "encoding": {
            "x": {"datum": 2022.123, "type": "quantitative", "axis": null},
            "x2": {"datum": 2022.75},
            "y": {"datum": 8.04, "type": "quantitative", "axis": null}
          }
        },
        {
          "transform": [{"filter": "false"}],
          "mark": {"type": "square", "filled": true, "opacity": 1},
          "encoding": {
            "x": {"field": "year", "type": "quantitative", "axis": null},
            "y": {"field": "price", "type": "quantitative", "axis": {"orient": "right", "values": [12.5, 17.5], "labels": false, "grid": false, "domain": false, "tickSize": 7, "tickColor": "#000000", "tickWidth": 1.5, "title": null}},
            "color": {"datum": "السكر الخام في نيويورك", "scale": {"domain": ["السكر الخام في نيويورك"], "range": ["#000000"]},
              "legend": {"orient": "none", "legendX": 1467, "legendY": -53, "title": null, "symbolType": "square", "symbolSize": 625, "symbolStrokeWidth": 0, "labelExpr": "''", "padding": 0}}
          }
        },
        {
          "transform": [{"filter": "false"}],
          "mark": {"type": "line"},
          "encoding": {
            "x": {"field": "year", "type": "quantitative", "axis": null},
            "y": {"field": "price", "type": "quantitative", "axis": {"orient": "left", "labels": false, "ticks": false, "grid": false, "domainColor": "#8a8a8a", "domainWidth": 2, "title": null}}
          }
        },
        {
          "transform": [{"filter": "datum.year > 2022.008"}],
          "mark": {"type": "point", "shape": "M-1,0L-0.84,-0.32L1,-0.32L1,0.32L-0.84,0.32Z", "size": 10609, "filled": true, "fill": "#000000", "opacity": 1, "strokeWidth": 0, "xOffset": 83},
          "encoding": {
            "x": {"field": "year", "type": "quantitative", "axis": null},
            "y": {"field": "price", "type": "quantitative", "axis": null}
          }
        },
        {
          "transform": [{"filter": "datum.year > 2022.008"}],
          "mark": {"type": "text", "color": "#ffffff", "font": "Open Sans", "fontSize": 26, "align": "center", "baseline": "middle", "xOffset": 78, "yOffset": 1},
          "encoding": {
            "x": {"field": "year", "type": "quantitative", "axis": null},
            "y": {"field": "price", "type": "quantitative", "axis": null},
            "text": {"field": "price", "type": "quantitative", "format": ".2f"}
          }
        }
      ],
      "resolve": {"axis": {"x": "independent", "y": "independent"}}
    },
    {
      "width": 1365,
      "height": 273,
      "title": {"text": "إجمالي العقود المفتوحة", "anchor": "end", "frame": "group", "dx": 92, "offset": -24, "font": "DejaVu Sans", "fontSize": 22, "fontWeight": "normal", "color": "#000000"},
      "data": {"name": "oi"},
      "layer": [
        {
          "mark": {"type": "line", "color": "#1f7fe3", "strokeWidth": 2},
          "encoding": {
            "x": {"field": "year", "type": "quantitative", "scale": {"domain": [2017.0094, 2022.123], "nice": false, "zero": false},
              "axis": {"orient": "bottom", "values": [2018, 2019, 2020, 2021, 2022], "grid": true, "gridDash": [2, 2], "gridColor": "#8c8c8c", "gridWidth": 1, "ticks": true, "tickSize": 64, "tickColor": "#8a8a8a", "tickWidth": 1, "labels": false, "domainColor": "#333333", "domainWidth": 1.5,
                "title": "Bloomberg", "titleFont": "Roboto", "titleFontWeight": 900, "titleFontSize": 44, "titleColor": "#000000", "titleX": 0, "titleY": 120, "titleAlign": "left", "titleAnchor": "start", "titleBaseline": "alphabetic", "titleAngle": 0}},
            "y": {"field": "contracts", "type": "quantitative", "scale": {"domain": [0.618, 1.32], "nice": false, "zero": false},
              "axis": {"orient": "right", "values": [0.8, 1, 1.2], "format": "~g", "grid": true, "gridDash": [2, 2], "gridColor": "#8c8c8c", "gridWidth": 1, "domainColor": "#000000", "domainWidth": 2, "tickColor": "#000000", "tickSize": 10, "tickWidth": 3, "labelFont": "Open Sans", "labelFontSize": 25, "labelColor": "#000000", "labelPadding": 3, "title": "عدد العقود بالمليون", "titleFont": "DejaVu Sans", "titleFontSize": 22, "titleFontWeight": "normal", "titleColor": "#000000", "titleX": 112, "titleY": 180, "titleBaseline": "middle", "titleAngle": 90}}
          }
        },
        {
          "transform": [{"filter": "false"}],
          "mark": {"type": "square", "filled": true, "opacity": 1},
          "encoding": {
            "x": {"field": "year", "type": "quantitative",
              "axis": {"orient": "bottom", "values": [2017.5, 2018.5, 2019.5, 2020.5, 2021.5], "labelExpr": "'' + floor(datum.value)", "ticks": false, "tickSize": 0, "domain": false, "grid": false, "labelFont": "Open Sans", "labelFontSize": 26, "labelColor": "#000000", "labelBaseline": "middle", "labelPadding": 47,
                "title": "المصدر: بورصة \"إنتركونتيننتال\" للعقود المستقبلية في الولايات المتحدة", "titleFont": "DejaVu Sans", "titleFontSize": 31.5, "titleFontWeight": "normal", "titleColor": "#000000", "titleX": 1488, "titleY": 110, "titleAlign": "right", "titleAnchor": "end", "titleBaseline": "alphabetic", "titleAngle": 0}},
            "y": {"field": "contracts", "type": "quantitative", "axis": {"orient": "right", "values": [0.7, 0.9, 1.1, 1.3], "labels": false, "grid": false, "domain": false, "tickSize": 7, "tickColor": "#000000", "tickWidth": 1.5, "title": null}},
            "color": {"datum": "إجمالي العقود المفتوحة", "scale": {"domain": ["إجمالي العقود المفتوحة"], "range": ["#1f86f0"]},
              "legend": {"orient": "none", "legendX": 1467, "legendY": -43, "title": null, "symbolType": "square", "symbolSize": 625, "symbolStrokeWidth": 0, "labelExpr": "''", "padding": 0}}
          }
        },
        {
          "transform": [{"filter": "false"}],
          "mark": {"type": "line"},
          "encoding": {
            "x": {"field": "year", "type": "quantitative",
              "axis": {"orient": "bottom", "values": [2017.25, 2017.5, 2017.75, 2018.25, 2018.5, 2018.75, 2019.25, 2019.5, 2019.75, 2020.25, 2020.5, 2020.75, 2021.25, 2021.5, 2021.75], "labels": false, "grid": false, "domain": false, "tickSize": 6, "tickColor": "#333333", "tickWidth": 1, "title": null}},
            "y": {"field": "contracts", "type": "quantitative", "axis": {"orient": "left", "labels": false, "ticks": false, "grid": false, "domainColor": "#8a8a8a", "domainWidth": 2, "title": null}}
          }
        },
        {
          "transform": [{"filter": "datum.year > 2021.99"}],
          "mark": {"type": "point", "shape": "M-1,0L-0.75,-0.388L1,-0.388L1,0.388L-0.75,0.388Z", "size": 7225, "filled": true, "fill": "#2484e6", "stroke": "#0f5fb5", "strokeWidth": 1, "opacity": 1, "xOffset": 78},
          "encoding": {
            "x": {"field": "year", "type": "quantitative", "axis": null},
            "y": {"field": "contracts", "type": "quantitative", "axis": null}
          }
        },
        {
          "transform": [{"filter": "datum.year > 2021.99"}],
          "mark": {"type": "text", "color": "#ffffff", "font": "Open Sans", "fontSize": 26, "align": "center", "baseline": "middle", "xOffset": 82, "yOffset": 1},
          "encoding": {
            "x": {"field": "year", "type": "quantitative", "axis": null},
            "y": {"field": "contracts", "type": "quantitative", "axis": null},
            "text": {"field": "contracts", "type": "quantitative", "format": ".3f"}
          }
        }
      ],
      "resolve": {"axis": {"x": "independent", "y": "independent"}}
    }
  ],
  "resolve": {"scale": {"x": "independent", "y": "independent", "color": "independent"}, "legend": {"color": "independent"}},
  "config": {
    "view": {"stroke": null},
    "font": "DejaVu Sans"
  }
}
